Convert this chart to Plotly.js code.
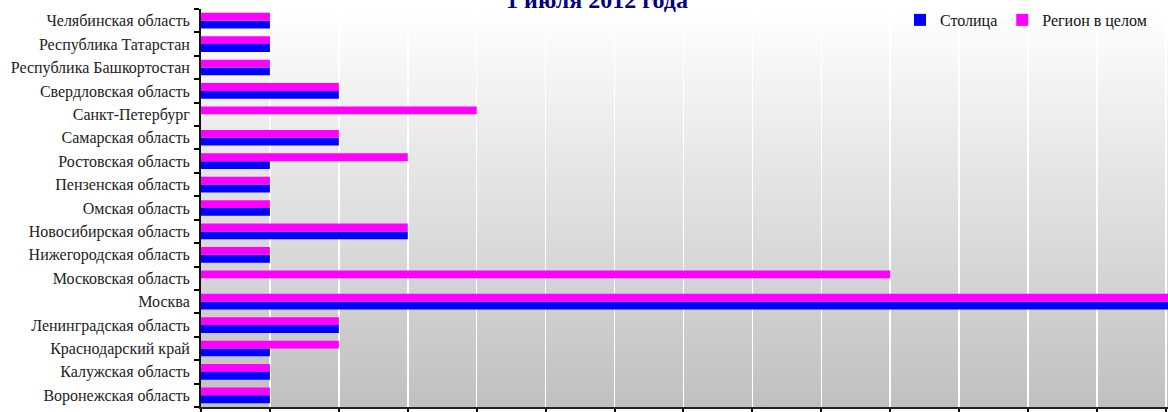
<!DOCTYPE html>
<html>
<head>
<meta charset="utf-8">
<script src="https://cdn.plot.ly/plotly-3.0.1.min.js"></script>
<style>
html,body{margin:0;padding:0;background:#fff;}
#wrap{position:relative;width:1168px;height:412px;overflow:hidden;}
#bg{position:absolute;background:linear-gradient(to bottom,#ffffff 0%,#c0c0c0 100%);}
#chart{position:absolute;left:0;top:0;width:1168px;height:412px;}
</style>
</head>
<body>
<div id="wrap"><div id="bg"></div><div id="chart"></div></div>
<script>
var categories = [
  "Воронежская область",
  "Калужская область",
  "Краснодарский край",
  "Ленинградская область",
  "Москва",
  "Московская область",
  "Нижегородская область",
  "Новосибирская область",
  "Омская область",
  "Пензенская область",
  "Ростовская область",
  "Самарская область",
  "Санкт-Петербург",
  "Свердловская область",
  "Республика Башкортостан",
  "Республика Татарстан",
  "Челябинская область"
];
var capitalValues = [1, 1, 1, 2, 16, 0, 1, 3, 1, 1, 1, 2, 0, 2, 1, 1, 1];
var regionValues  = [1, 1, 2, 2, 16, 10, 1, 3, 1, 1, 3, 2, 4, 2, 1, 1, 1];
var seriesNames = ["Столица", "Регион в целом"];
var titleText = "1 июля 2012 года";

var serif = "Liberation Serif, Times New Roman, serif";

var traces = [
  {type: "bar", orientation: "h", name: seriesNames[0], y: categories, x: capitalValues,
   marker: {color: "#0000ff"}, hoverinfo: "x+y"},
  {type: "bar", orientation: "h", name: seriesNames[1], y: categories, x: regionValues,
   marker: {color: "#ff00ff"}, hoverinfo: "x+y"}
];

var layout = {
  width: 1168, height: 412,
  margin: {l: 201, r: 0, t: 9, b: 5, autoexpand: false},
  paper_bgcolor: "rgba(0,0,0,0)",
  plot_bgcolor: "rgba(0,0,0,0)",
  barmode: "group",
  bargap: 0.33,
  bargroupgap: 0,
  font: {family: serif, size: 16, color: "#222"},
  title: {
    text: titleText,
    font: {family: serif, size: 24, color: "#000080", weight: "bold"},
    x: 597/1168, xanchor: "center", xref: "container",
    y: 1, yanchor: "middle", yref: "container",
    automargin: false
  },
  showlegend: true,
  legend: {
    orientation: "h",
    x: 1152/1168, xanchor: "right", xref: "container",
    y: 1 - 3/412, yanchor: "top", yref: "container",
    bgcolor: "rgba(0,0,0,0)",
    font: {family: serif, size: 16, color: "#111"},
    traceorder: "normal",
    itemwidth: 30
  },
  xaxis: {
    range: [0, 14.03],
    dtick: 1,
    showgrid: true, gridcolor: "#ffffff", gridwidth: 1.5,
    zeroline: false,
    showline: true, linecolor: "#222", linewidth: 2,
    ticks: "outside", ticklen: 5, tickcolor: "#000", tickwidth: 2,
    showticklabels: false,
    fixedrange: true
  },
  yaxis: {
    type: "category",
    categoryorder: "array", categoryarray: categories,
    showgrid: false, zeroline: false,
    showline: true, linecolor: "#111", linewidth: 2,
    ticks: "outside", tickson: "boundaries", ticklen: 5, tickcolor: "#000", tickwidth: 2,
    ticklabelstandoff: 6,
    tickfont: {family: serif, size: 16, color: "#222"},
    automargin: false,
    fixedrange: true
  }
};

Plotly.newPlot("chart", traces, layout, {displayModeBar: false, staticPlot: true}).then(function(gd){
  var s = gd._fullLayout._size;
  var bg = document.getElementById("bg");
  bg.style.left = s.l + "px";
  bg.style.top = s.t + "px";
  bg.style.width = s.w + "px";
  bg.style.height = s.h + "px";
});
</script>
</body>
</html>
